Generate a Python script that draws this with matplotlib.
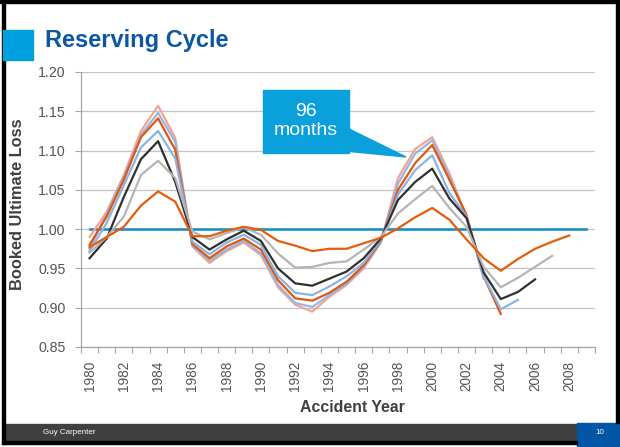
import matplotlib
matplotlib.use("Agg")
import matplotlib.pyplot as plt
from matplotlib.patches import Rectangle, Polygon
from matplotlib.ticker import FixedLocator, FormatStrFormatter

plt.rcParams['font.family'] = ['Liberation Sans', 'DejaVu Sans']

# accident years
years = list(range(1980, 2010))

# booked ultimate loss by evaluation age
m12 = [0.977, 0.990, 1.003, 1.030, 1.048, 1.035, 0.991, 0.991, 0.998, 1.003,
       0.999, 0.985, 0.979, 0.972, 0.975, 0.975, 0.982, 0.989, 1.001, 1.015,
       1.027, 1.012, 0.987, 0.963, 0.947, 0.962, 0.975, 0.984, 0.992]
m24 = [0.970, 0.990, 1.016, 1.069, 1.087, 1.065, 0.997, 0.987, 0.995, 1.002,
       0.993, 0.969, 0.951, 0.952, 0.957, 0.959, 0.974, 0.990, 1.020, 1.038,
       1.055, 1.027, 1.003, 0.952, 0.926, 0.938, 0.952, 0.966]
m36 = [0.963, 0.988, 1.041, 1.089, 1.112, 1.060, 0.990, 0.974, 0.987, 0.998,
       0.985, 0.950, 0.931, 0.928, 0.937, 0.946, 0.963, 0.988, 1.037, 1.060,
       1.077, 1.039, 1.014, 0.945, 0.911, 0.920, 0.936]
m48 = [0.972, 1.008, 1.056, 1.104, 1.125, 1.090, 0.984, 0.968, 0.983, 0.993,
       0.980, 0.940, 0.919, 0.916, 0.927, 0.940, 0.957, 0.986, 1.044, 1.075,
       1.094, 1.046, 1.016, 0.940, 0.898, 0.910]
m60 = [0.980, 1.016, 1.063, 1.117, 1.141, 1.101, 0.981, 0.963, 0.978, 0.988,
       0.974, 0.935, 0.912, 0.909, 0.919, 0.933, 0.954, 0.985, 1.050, 1.084,
       1.107, 1.063, 1.018, 0.940, 0.892]
m72 = [0.975, 1.020, 1.066, 1.120, 1.148, 1.111, 0.979, 0.960, 0.974, 0.985,
       0.969, 0.929, 0.906, 0.901, 0.916, 0.930, 0.952, 0.984, 1.058, 1.096,
       1.113, 1.067, 1.017, 0.937]
m96 = [0.990, 1.022, 1.069, 1.125, 1.157, 1.116, 0.978, 0.957, 0.972, 0.983,
       0.967, 0.926, 0.904, 0.895, 0.914, 0.929, 0.950, 0.983, 1.065, 1.102,
       1.117, 1.071, 1.016]
target = [1.0] * len(years)

series = [
    (m96, '#F6A391'),
    (m72, '#93B8E2'),
    (m60, '#E0560E'),
    (m48, '#8DB3E2'),
    (m36, '#303030'),
    (m24, '#B5B5B5'),
    (m12, '#E65C0C'),
]

W, H = 620, 447
fig = plt.figure(figsize=(W / 100, H / 100), dpi=100)


def fx(x):
    return x / W


def fy(y):
    return 1 - y / H


ax = fig.add_axes([fx(81), fy(347), (595 - 81) / W, (347 - 72) / H])

ax.plot(years, target, color='#1A8FC7', lw=1.9, zorder=2)
for vals, col in series:
    ax.plot(years[:len(vals)], vals, color=col, lw=1.6, zorder=3)

ax.set_xlim(1979.5, 2009.5)
ax.set_ylim(0.85, 1.20)

ax.xaxis.set_major_locator(FixedLocator(range(1980, 2009, 2)))
ax.xaxis.set_minor_locator(FixedLocator([y - 0.5 for y in range(1980, 2011)]))
ax.tick_params(axis='x', which='major', length=0, pad=10, labelsize=9.8,
               labelcolor='#555555', labelrotation=90)
ax.tick_params(axis='x', which='minor', length=4, color='#A6A6A6', width=0.8)

ax.yaxis.set_major_locator(FixedLocator([0.85, 0.90, 0.95, 1.00, 1.05, 1.10, 1.15, 1.20]))
ax.yaxis.set_major_formatter(FormatStrFormatter('%.2f'))
ax.tick_params(axis='y', length=4, color='#A6A6A6', width=0.8, pad=7,
               labelsize=10.2, labelcolor='#555555')

ax.yaxis.grid(True, color='#C4C4C4', lw=0.9)
ax.set_axisbelow(True)
for s in ['top', 'right']:
    ax.spines[s].set_visible(False)
for s in ['left', 'bottom']:
    ax.spines[s].set_color('#A6A6A6')
    ax.spines[s].set_linewidth(0.9)

# axis titles
fig.text(fx(18), fy(204), 'Booked Ultimate Loss', rotation=90, ha='center', va='center',
         fontsize=11.8, fontweight='bold', color='#404040')
fig.text(fx(352), fy(408), 'Accident Year', ha='center', va='center',
         fontsize=11.4, fontweight='bold', color='#404040')

# slide title
fig.patches.append(Rectangle((fx(3), fy(60)), 30 / W, 30 / H, transform=fig.transFigure,
                             color='#00A1DE', zorder=3))
fig.text(fx(45), fy(47.5), 'Reserving Cycle', ha='left', va='baseline', fontsize=17,
         fontweight='bold', color='#0B57A4')

# callout
fig.patches.append(Polygon([(fx(345), fy(127)), (fx(406), fy(157)), (fx(345), fy(151))],
                           closed=True, transform=fig.transFigure, color='#0AA0DC', zorder=5))
fig.patches.append(Rectangle((fx(263), fy(153)), 86 / W, 63 / H, transform=fig.transFigure,
                             color='#0AA0DC', zorder=5))
fig.text(fx(306), fy(121), '96\nmonths', ha='center', va='center', fontsize=14,
         color='white', linespacing=1.15, zorder=6)

# footer
fig.patches.append(Rectangle((fx(5), fy(441)), 572 / W, 17 / H, transform=fig.transFigure,
                             color='#404040', zorder=1))
fig.patches.append(Rectangle((fx(577), fy(447)), 43 / W, 24 / H, transform=fig.transFigure,
                             color='#0055A4', zorder=1))
fig.text(fx(43), fy(432.5), 'Guy Carpenter', ha='left', va='center', fontsize=5.8,
         color='white')
fig.text(fx(600), fy(432.5), '10', ha='center', va='center', fontsize=5.8, color='white')

# slide frame
fig.patches.append(Rectangle((0, fy(3)), 1, 3 / H, transform=fig.transFigure,
                             color='black', zorder=2))
fig.patches.append(Rectangle((fx(2), fy(444)), 3 / W, 441 / H, transform=fig.transFigure,
                             color='black', zorder=2))
fig.patches.append(Rectangle((fx(2), fy(444)), 575 / W, 3 / H, transform=fig.transFigure,
                             color='black', zorder=2))
fig.patches.append(Rectangle((fx(616), fy(423)), 3 / W, 420 / H, transform=fig.transFigure,
                             color='black', zorder=2))

fig.savefig('out.png', dpi=100)
